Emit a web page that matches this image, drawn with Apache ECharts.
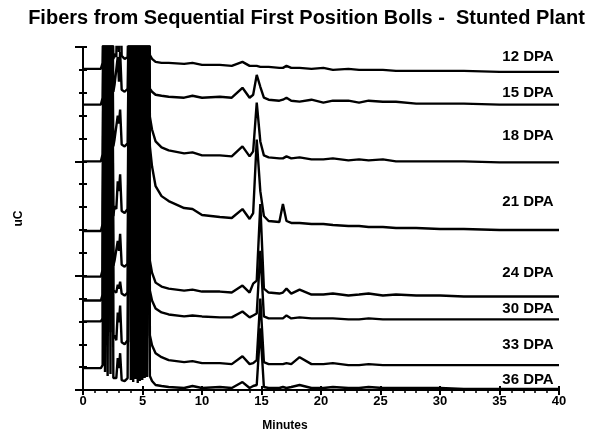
<!DOCTYPE html>
<html><head><meta charset="utf-8">
<script src="https://cdn.jsdelivr.net/npm/echarts@6/dist/echarts.min.js"></script>
<style>html,body{margin:0;padding:0;background:#fff}#c{width:613px;height:437px}</style>
</head><body><div id="c"></div>
<script>
// Saturated (off-scale) detector response
const SAT = 420;

// Retention time (minutes), shared by all traces
const minutes = [
  0, 1.5, 1.65, 1.75, 1.85, 1.95, 2.07, 2.19, 2.31, 2.43,
  2.55, 2.65, 2.8, 2.92, 3.02, 3.12, 3.25, 3.5, 3.75, 3.92,
  4.02, 4.12, 4.22, 4.32, 4.42, 4.52, 4.6, 4.68, 4.78, 4.88,
  4.98, 5.08, 5.18, 5.28, 5.38, 5.5, 5.62, 5.8, 6.1, 6.6,
  7.2, 8.5, 9.2, 10, 11.5, 12.5, 13.4, 14.0, 14.3, 14.6,
  14.9, 15.2, 15.6, 16.5, 16.8, 17.1, 17.5, 18.2, 19.2, 20.2,
  21.0, 22.3, 23.2, 24.0, 25.2, 26.3, 28, 30, 32, 35,
  38, 40
];

// Offset detector response (uC, stacked) for each boll age
const dpa12 = [
  323, 323, 329, SAT, 328, SAT, 330, SAT, 327, SAT,
  333, 338, 335, SAT, 340, SAT, 336, 333, 335, SAT,
  330, SAT, 332, SAT, 328, SAT, 331, SAT, 329, SAT,
  330, SAT, 332, SAT, 329, SAT, 337, 333, 330, 329,
  329, 328, 329, 327, 327, 326, 330, 326, 326, 326,
  325, 325, 325, 324, 324, 326, 324, 324, 323, 324,
  322, 323, 322, 322, 322, 321, 321, 321, 321, 320,
  320, 320
];
const dpa15 = [
  287, 287, 294, SAT, 292, SAT, 295, SAT, 293, SAT,
  300, 307, 305, 335, 310, 340, 302, 300, 303, SAT,
  296, SAT, 298, SAT, 294, SAT, 297, SAT, 295, SAT,
  298, SAT, 296, SAT, 299, SAT, 303, 300, 297, 296,
  295, 294, 296, 294, 295, 294, 304, 294, 297, 317,
  305, 294, 292, 291, 292, 294, 291, 290, 292, 289,
  291, 291, 289, 291, 290, 290, 288, 288, 288, 287,
  287, 287
];
const dpa18 = [
  230, 230, 237, SAT, 236, SAT, 240, SAT, 235, SAT,
  245, 252, 250, 276, 268, 282, 247, 245, 248, SAT,
  240, SAT, 238, SAT, 242, SAT, 237, SAT, 241, SAT,
  239, SAT, 243, SAT, 240, SAT, 275, 262, 250, 244,
  241, 238, 239, 236, 236, 235, 245, 235, 240, 289,
  250, 236, 234, 233, 233, 235, 233, 234, 232, 232,
  233, 231, 232, 231, 232, 230, 230, 230, 230, 229,
  229, 229
];
const dpa21 = [
  160, 160, 167, SAT, 165, SAT, 170, SAT, 166, SAT,
  175, 185, 182, 210, 200, 217, 180, 178, 182, SAT,
  172, SAT, 168, SAT, 174, SAT, 169, SAT, 171, SAT,
  170, SAT, 173, SAT, 175, SAT, 245, 225, 205, 195,
  190, 183, 182, 176, 174, 173, 182, 172, 178, 252,
  200, 175, 170, 169, 187, 170, 168, 168, 167, 167,
  166, 165, 165, 164, 164, 163, 163, 162, 162, 161,
  161, 161
];
const dpa24 = [
  114, 114, 121, SAT, 119, SAT, 123, SAT, 118, SAT,
  125, 130, 128, 150, 140, 157, 126, 124, 127, SAT,
  122, SAT, 118, SAT, 124, SAT, 119, SAT, 121, SAT,
  120, SAT, 123, SAT, 125, SAT, 130, 118, 108, 104,
  102, 100, 101, 99, 99, 98, 105, 98, 107, 110,
  187, 102, 98, 97, 98, 102, 97, 101, 96, 96,
  97, 95, 96, 97, 95, 96, 95, 95, 94, 94,
  94, 94
];
const dpa30 = [
  90, 90, 96, SAT, 95, SAT, 98, SAT, 94, SAT,
  100, 100, 98, 106, 102, 109, 97, 95, 98, SAT,
  96, SAT, 93, SAT, 97, SAT, 94, SAT, 96, SAT,
  95, SAT, 98, SAT, 99, SAT, 100, 90, 82, 78,
  76, 74, 75, 74, 73, 73, 79, 73, 75, 77,
  140, 74, 72, 72, 72, 75, 72, 73, 72, 72,
  72, 71, 71, 72, 71, 71, 71, 71, 71, 71,
  71, 71
];
const dpa33 = [
  69, 69, 72, SAT, 60, SAT, 55, SAT, 58, SAT,
  52, 55, 50, 78, 68, 85, 48, 46, 50, SAT,
  48, SAT, 45, SAT, 50, SAT, 44, SAT, 47, SAT,
  46, SAT, 49, SAT, 52, SAT, 55, 45, 37, 33,
  30, 28, 29, 27, 27, 26, 34, 26, 27, 30,
  92, 28, 26, 26, 26, 27, 26, 33, 26, 26,
  27, 25, 25, 26, 25, 25, 25, 25, 25, 25,
  25, 25
];
const dpa36 = [
  22, 22, 25, SAT, 18, SAT, 14, SAT, 16, SAT,
  12, 14, 12, 32, 22, 37, 10, 9, 12, SAT,
  10, SAT, 8, SAT, 11, SAT, 7, SAT, 9, SAT,
  10, SAT, 12, SAT, 13, SAT, 14, 9, 5, 4,
  3, 2, 4, 2, 3, 2, 8, 2, 4, 5,
  62, 3, 2, 2, 3, 2, 3, 5, 2, 2,
  3, 2, 2, 3, 2, 2, 2, 2, 1, 1,
  1, 1
];

const traceNames = ['12 DPA', '15 DPA', '18 DPA', '21 DPA', '24 DPA', '30 DPA', '33 DPA', '36 DPA'];
const xTicks = [0, 5, 10, 15, 20, 25, 30, 35, 40];

// ---- styling ----
const traces = [dpa12, dpa15, dpa18, dpa21, dpa24, dpa30, dpa33, dpa36];
const labelLift = [15, 12, 26, 28, 24, 11, 20, 9];
const FONT = "'Liberation Sans', Arial, sans-serif";

const chart = echarts.init(document.getElementById('c'), null, {renderer: 'canvas'});
const last = minutes.length - 1;

const series = traces.map((vals, k) => ({
  type: 'line',
  name: traceNames[k],
  data: minutes.map((m, i) => [m, vals[i]]),
  showSymbol: false,
  symbol: 'none',
  clip: true,
  lineStyle: {color: '#000', width: 2.4},
  emphasis: {disabled: true},
  markPoint: {
    symbol: 'circle', symbolSize: 0, silent: true, animation: false,
    data: [{coord: [minutes[last], vals[last]]}],
    label: {
      show: true, position: 'inside', formatter: traceNames[k],
      offset: [-31, -labelLift[k]],
      color: '#000', fontFamily: FONT, fontWeight: 'bold', fontSize: 15
    }
  }
}));

const axisLineStyle = {color: '#000', width: 2};

chart.setOption({
  animation: false,
  backgroundColor: '#fff',
  title: {
    text: 'Fibers from Sequential First Position Bolls -  Stunted Plant',
    left: 'center', top: 3,
    textStyle: {color: '#000', fontFamily: FONT, fontWeight: 'bold', fontSize: 20}
  },
  grid: {left: 83, right: 54, top: 47, bottom: 45, containLabel: false},
  xAxis: [
    {
      type: 'value', min: xTicks[0], max: xTicks[xTicks.length - 1], interval: 5,
      position: 'bottom',
      axisLine: {show: true, onZero: false, lineStyle: axisLineStyle},
      axisTick: {show: true, length: 5, lineStyle: {color: '#000', width: 2}},
      minorTick: {show: true, splitNumber: 5, length: 3, lineStyle: {color: '#000', width: 1.5}},
      splitLine: {show: false},
      axisLabel: {color: '#000', fontFamily: FONT, fontWeight: 'bold', fontSize: 13, margin: 5,
        formatter: v => xTicks.includes(v) ? String(v) : ''},
      name: 'Minutes', nameLocation: 'middle', nameGap: 30,
      nameTextStyle: {color: '#000', fontFamily: FONT, fontWeight: 'bold', fontSize: 12,
        padding: [0, 72, 0, 0]}
    },
    {
      type: 'value', min: 0, max: 40, interval: 5, position: 'bottom',
      axisLine: {show: false, onZero: false},
      axisTick: {show: true, inside: true, length: 4, lineStyle: {color: '#000', width: 2}},
      axisLabel: {show: false}, splitLine: {show: false}
    }
  ],
  yAxis: [
    {
      type: 'value', min: 0, max: 345, interval: 23, position: 'left',
      axisLine: {show: true, onZero: false, lineStyle: axisLineStyle},
      axisTick: {show: true, length: 4, lineStyle: {color: '#000', width: 2}},
      axisLabel: {show: false}, splitLine: {show: false},
      name: 'uC', nameLocation: 'middle', nameGap: 58,
      nameTextStyle: {color: '#000', fontFamily: FONT, fontWeight: 'bold', fontSize: 12}
    },
    {
      type: 'value', min: 0, max: 345, interval: 23, position: 'left',
      axisLine: {show: false, onZero: false},
      axisTick: {show: true, inside: true, length: 4, lineStyle: {color: '#000', width: 2}},
      axisLabel: {show: false}, splitLine: {show: false}
    },
    {
      type: 'value', min: 0, max: 345, interval: 115, position: 'left',
      axisLine: {show: false, onZero: false},
      axisTick: {show: true, length: 8, lineStyle: {color: '#000', width: 2}},
      axisLabel: {show: false}, splitLine: {show: false}
    }
  ],
  series: series
});
</script>
</body></html>
